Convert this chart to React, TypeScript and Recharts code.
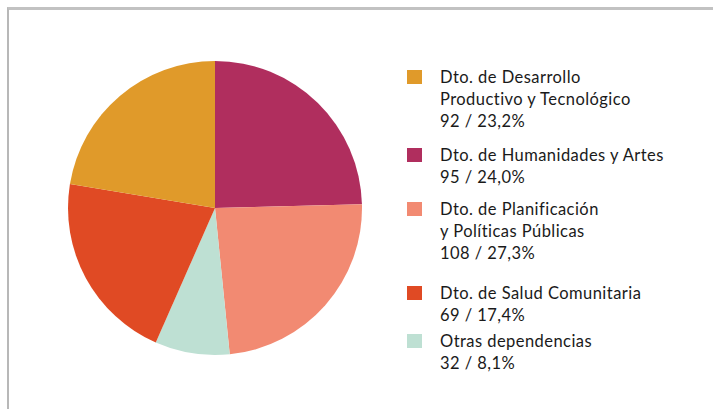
import { PieChart, Pie, Cell } from "recharts";

// Legend order (as printed in the reference)
const legendNames = [
  ["Dto. de Desarrollo", "Productivo y Tecnológico"],
  ["Dto. de Humanidades y Artes"],
  ["Dto. de Planificación", "y Políticas Públicas"],
  ["Dto. de Salud Comunitaria"],
  ["Otras dependencias"],
];
const legendCounts = [92, 95, 108, 69, 32];
const legendPercents = ["23,2%", "24,0%", "27,3%", "17,4%", "8,1%"];
const legendColors = ["#e09a2a", "#b02e5e", "#f28a72", "#e04a24", "#bee0d3"];

// Slices, clockwise from 12 o'clock, sized as drawn in the reference (% of circle)
const sliceNames = ["Humanidades", "Planificación", "Otras", "Salud", "Desarrollo"];
const sliceShares = [24.6, 23.8, 8.2, 21.0, 22.4];
const sliceColors = ["#b02e5e", "#f28a72", "#bee0d3", "#e04a24", "#e09a2a"];

const pieData = sliceNames.map((name, i) => ({ name, value: sliceShares[i] }));

// top of each legend block (px)
const legendTops = [66, 144, 198, 282, 330];

export default function App() {
  return (
    <div style={{ position: "relative", width: 713, height: 409, overflow: "hidden", background: "#fff" }}>
      <style>{"body{margin:0}"}</style>
      <div
        style={{
          position: "absolute",
          left: 7,
          top: 7,
          width: 720,
          height: 420,
          borderTop: "3px solid #c2c2c2",
          borderLeft: "2px solid #b8b8b8",
        }}
      />
      <div style={{ position: "absolute", left: 0, top: 0 }}>
        <PieChart width={430} height={409} margin={{ top: 0, right: 0, bottom: 0, left: 0 }}>
          <Pie
            data={pieData}
            dataKey="value"
            cx={215}
            cy={208}
            outerRadius={147}
            startAngle={90}
            endAngle={-270}
            stroke="none"
            isAnimationActive={false}
          >
            {pieData.map((d, i) => (
              <Cell key={d.name} fill={sliceColors[i]} />
            ))}
          </Pie>
        </PieChart>
      </div>
      {legendNames.map((lines, i) => (
        <div
          key={i}
          style={{
            position: "absolute",
            left: 407,
            top: legendTops[i],
            fontFamily: "Lato, 'Open Sans', sans-serif",
            fontSize: 16.5,
            letterSpacing: 0.45,
            lineHeight: "22px",
            color: "#1a1a1a",
          }}
        >
          <div
            style={{
              position: "absolute",
              left: 0,
              top: 4,
              width: 15,
              height: 14,
              background: legendColors[i],
            }}
          />
          <div style={{ marginLeft: 33, whiteSpace: "nowrap" }}>
            {lines.map((l) => (
              <div key={l}>{l}</div>
            ))}
            <div>
              {legendCounts[i]} / {legendPercents[i]}
            </div>
          </div>
        </div>
      ))}
    </div>
  );
}
